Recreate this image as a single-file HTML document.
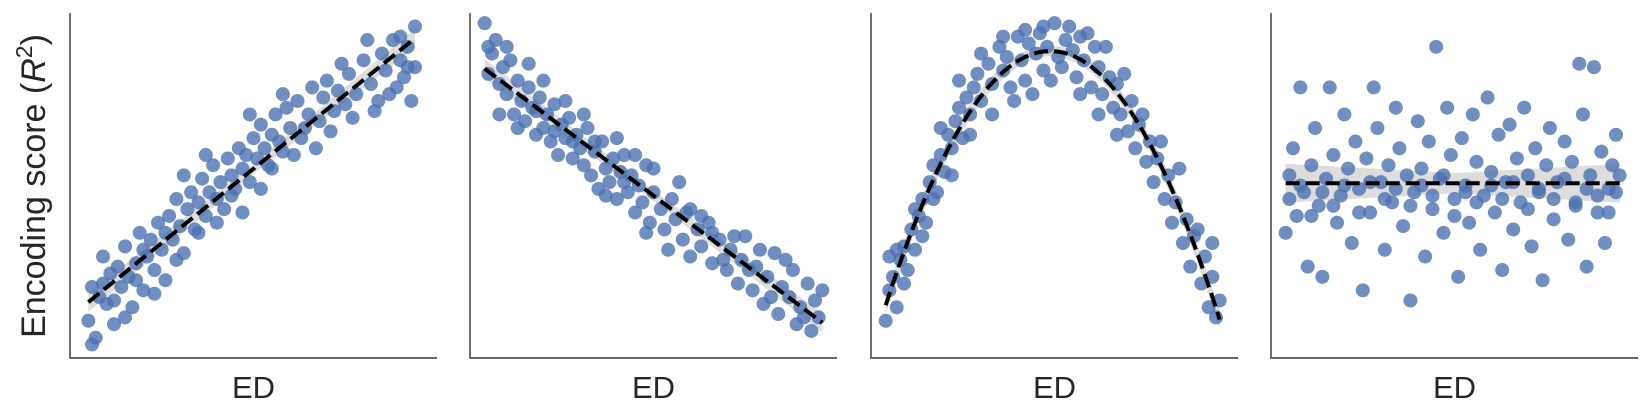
<!DOCTYPE html>
<html><head><meta charset="utf-8"><style>
html,body{margin:0;padding:0;background:#fff;}
svg{display:block;font-family:"Liberation Sans","DejaVu Sans",sans-serif;}
</style></head><body>
<svg id="chart" width="1650" height="420" viewBox="0 0 1650 420" xmlns="http://www.w3.org/2000/svg">
<text transform="translate(45,186) rotate(-90)" text-anchor="middle" font-size="34" fill="#262626">Encoding score (<tspan font-style="italic">R</tspan><tspan dy="-13" font-size="23">2</tspan><tspan dy="13">)</tspan></text>
</svg>
<script>
const panel1Data = [[5,9],[6,19],[7,4],[8,16],[9,28],[10,14],[11,23],[12,8],[13,25],[14,19],[15,31],[16,22],[17,13],[18,26],[19,35],[20,18],[21,28],[22,33],[23,24],[24,38],[25,30],[26,21],[27,40],[28,33],[29,45],[30,37],[31,29],[32,42],[33,47],[34,36],[35,44],[36,51],[37,40],[38,47],[39,55],[40,45],[41,50],[42,42],[43,57],[44,52],[45,48],[46,60],[47,54],[48,58],[49,50],[50,63],[51,57],[52,67],[53,60],[54,55],[55,64],[56,70],[57,62],[58,59],[59,72],[60,66],[62,74],[63,63],[65,70],[66,78],[68,68],[69,75],[70,80],[72,71],[73,77],[75,73],[76,82],[78,76],[80,86],[82,79],[84,74],[85,88],[86,83],[88,92],[89,78],[90,86],[91,81],[92,90],[93,74],[94,96],[94,84],
[6,2],[9,20],[12,15],[15,10],[18,21],[20,30],[23,17],[26,35],[29,27],[31,52],[35,35],[37,58],[40,38],[44,46],[47,41],[49,70],[52,48],[55,54],[58,76],[61,58],[64,66],[67,60],[71,65],[74,85],[77,69],[81,92],[83,71],[87,76],[90,93],[92,84]];
const panel2Data = [[4,97],[5,82],[6,88],[7,92],[8,79],[9,84],[10,76],[11,86],[12,70],[13,80],[14,74],[15,68],[16,78],[17,72],[18,64],[19,75],[20,66],[21,70],[22,62],[23,73],[24,58],[25,67],[26,63],[27,69],[28,57],[29,64],[30,60],[31,55],[32,66],[33,52],[34,59],[35,48],[36,62],[37,54],[38,50],[39,57],[40,45],[41,53],[42,58],[43,47],[44,52],[45,41],[46,49],[47,44],[48,55],[49,38],[50,47],[52,42],[53,36],[55,45],[56,39],[58,33],[59,41],[60,28],[62,36],[63,31],[65,38],[66,26],[68,33],[70,24],[71,30],[73,20],[74,27],[75,34],[77,18],[78,25],[80,14],[81,22],[83,29],[84,11],[85,19],[87,16],[88,24],[89,8],[90,13],[92,20],[93,6],[94,15],[95,10],[96,18],
[5,90],[8,70],[10,90],[13,66],[16,85],[18,71],[20,80],[23,65],[26,74],[28,62],[31,70],[34,62],[37,46],[40,63],[42,50],[45,58],[48,35],[50,54],[54,30],[57,50],[60,42],[63,40],[66,35],[69,27],[72,34],[76,24],[79,30],[82,16],[86,27],[91,10]];
const panel3Data = [[4,9],[5,18],[6,22],[7,13],[8,27],[9,31],[10,24],[11,36],[12,30],[13,40],[14,45],[15,38],[16,50],[17,55],[18,47],[19,58],[20,53],[21,64],[22,60],[23,68],[24,72],[25,63],[26,75],[27,70],[28,78],[29,82],[30,74],[32,85],[33,79],[35,90],[36,83],[37,87],[38,78],[40,93],[41,86],[42,80],[43,91],[45,88],[46,94],[47,83],[48,90],[50,97],[51,87],[52,84],[53,92],[55,89],[56,81],[57,93],[58,86],[60,78],[61,90],[62,84],[63,76],[65,81],[66,72],[67,79],[68,70],[70,65],[71,74],[72,60],[73,67],[75,56],[76,62],[77,50],[78,57],[80,45],[81,52],[82,38],[83,44],[85,32],[86,39],[87,25],[88,34],[90,20],[91,28],[92,13],[93,22],[94,10],[95,15],
[5,28],[7,30],[9,20],[12,42],[14,34],[17,45],[19,66],[22,52],[24,80],[27,64],[30,88],[33,70],[36,93],[39,74],[42,95],[44,76],[47,96],[49,80],[54,96],[57,76],[59,94],[62,70],[64,90],[67,64],[69,82],[74,70],[79,62],[84,54],[89,36],[93,32]];
const panel4Data = [[4,35],[5,52],[6,60],[7,40],[8,78],[9,47],[10,25],[11,55],[12,66],[13,43],[14,22],[15,51],[16,78],[17,58],[18,38],[19,46],[20,70],[21,54],[22,32],[23,62],[24,48],[25,18],[26,57],[27,41],[28,78],[29,66],[30,50],[31,30],[32,55],[33,44],[34,72],[35,60],[36,37],[37,52],[38,15],[39,47],[40,68],[41,54],[42,28],[43,62],[44,42],[45,90],[46,51],[47,35],[48,72],[49,58],[50,45],[51,22],[52,63],[53,49],[54,38],[55,70],[56,56],[57,30],[58,46],[59,75],[60,53],[61,41],[62,64],[63,24],[64,50],[65,67],[66,36],[67,57],[68,44],[69,72],[70,52],[71,31],[72,60],[73,47],[74,21],[75,55],[76,66],[77,39],[78,50],[80,62],[81,33],[82,56],[83,44],[84,85],[85,70],[86,25],[87,52],[88,84],[89,41],[90,59],[91,32],[92,48],[94,64],[95,52],
[5,45],[8,49],[11,40],[14,47],[17,43],[20,49],[24,41],[27,50],[31,45],[34,48],[38,43],[41,49],[44,46],[47,52],[50,40],[53,47],[56,44],[60,49],[63,45],[66,50],[70,42],[73,48],[77,45],[80,51],[83,43],[86,48],[89,46],[92,41],[94,47],[93,55]];
const fitOrders = [1,1,2,0];
const xLabels = ["ED","ED","ED","ED"];

const NS="http://www.w3.org/2000/svg";
const svg=document.getElementById('chart');
const panelLeft=[70,470,871,1271], W=367, TOP=13, BOT=358;
const allData=[panel1Data,panel2Data,panel3Data,panel4Data];
function mk(tag,attrs,parent){const e=document.createElementNS(NS,tag);for(const k in attrs)e.setAttribute(k,attrs[k]);parent.appendChild(e);return e;}
function solve(A,b){const n=b.length;A=A.map((r,i)=>r.concat([b[i]]));for(let i=0;i<n;i++){let p=i;for(let j=i+1;j<n;j++)if(Math.abs(A[j][i])>Math.abs(A[p][i]))p=j;[A[i],A[p]]=[A[p],A[i]];for(let j=i+1;j<n;j++){const f=A[j][i]/A[i][i];for(let k=i;k<=n;k++)A[j][k]-=f*A[i][k];}}const x=new Array(n).fill(0);for(let i=n-1;i>=0;i--){let s=A[i][n];for(let k=i+1;k<n;k++)s-=A[i][k]*x[k];x[i]=s/A[i][i];}return x;}
function fit(d,order){const n=order+1;const A=[],b=[];for(let i=0;i<n;i++){A.push(new Array(n).fill(0));b.push(0);}d.forEach(([x,y])=>{for(let i=0;i<n;i++){b[i]+=y*Math.pow(x,i);for(let j=0;j<n;j++)A[i][j]+=Math.pow(x,i+j);}});return solve(A,b);}
allData.forEach((data,p)=>{
  const L=panelLeft[p];
  const sx=v=>L+v/100*W;
  const sy=v=>BOT-(v+2)/102*(BOT-TOP);
  const g=mk('g',{},svg);
  
  
  const xs=data.map(d=>d[0]);const x0=Math.min(...xs),x1=Math.max(...xs);
  const c=fit(data,fitOrders[p]);
  const f=x=>c.reduce((s,ci,i)=>s+ci*Math.pow(x,i),0);
  const bw=p===3?3:1.5;
  let up=[],dn=[],ln=[];
  for(let i=0;i<=60;i++){const x=x0+(x1-x0)*i/60;const y=f(x);const w=bw*(1+Math.abs(x-50)/50);up.push(sx(x)+','+sy(y+w));dn.unshift(sx(x)+','+sy(y-w));ln.push(sx(x)+','+sy(y));}
  const band=mk('polygon',{points:up.concat(dn).join(' '),fill:'#d9d9d9','fill-opacity':'0.9'},g);
  
  
  data.forEach(([x,y])=>{
    const dot=mk('circle',{cx:sx(x),cy:sy(y),r:7,fill:'#4c72b0','fill-opacity':'0.8'},g);
    
    
  });
  const line=mk('polyline',{points:ln.join(' '),fill:'none',stroke:'#000','stroke-width':4,'stroke-dasharray':'14,6'},g);
  
  
  const ax=mk('path',{d:`M${L},${TOP} V${BOT} H${L+W}`,fill:'none',stroke:'#333','stroke-width':1.4},g);
  
  
  const t=mk('text',{x:L+W/2,y:398,'text-anchor':'middle','font-size':31,fill:'#262626'},g);
  t.textContent=xLabels[p];
  
  
});
</script>
</body></html>
